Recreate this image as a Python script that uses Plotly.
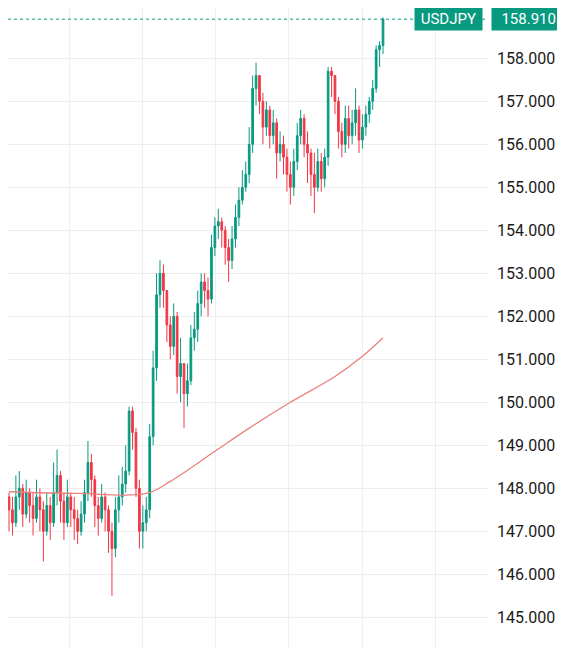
import plotly.graph_objects as go

closes = [147.5, 147.2, 147.8, 148.0, 147.4, 147.9, 147.6, 147.3, 147.8, 147.5,
          147.0, 147.6, 147.2, 147.9, 148.3, 147.7, 147.2, 147.8, 147.5, 147.3,
          147.0, 147.4, 147.9, 148.6, 148.2, 147.6, 147.3, 147.8, 147.5, 147.0,
          146.6, 147.5, 147.8, 148.1, 148.4, 149.8, 149.3, 148.0, 147.0, 147.2,
          147.5, 149.2, 150.8, 152.5, 153.0, 152.6, 151.8, 151.3, 152.0, 150.6,
          150.9, 150.2, 150.5, 151.5, 151.7, 152.3, 152.8, 152.6, 152.4, 153.6,
          154.1, 154.2, 154.0, 153.6, 153.3, 153.8, 154.3, 154.7, 155.0, 155.3,
          156.0, 157.3, 157.6, 157.0, 156.4, 156.8, 156.2, 156.5, 155.8, 156.0,
          155.7, 155.3, 155.0, 155.6, 156.2, 156.6, 156.0, 155.8, 155.3, 155.0,
          155.6, 155.2, 155.7, 157.7, 157.6, 157.0, 156.3, 156.0, 156.6, 156.2,
          156.5, 156.8, 156.1, 156.4, 156.7, 157.0, 157.3, 158.2, 158.3, 158.91]
highs = [147.9, 147.8, 148.3, 148.4, 148.1, 148.2, 148.0, 147.9, 148.2, 148.0,
         147.7, 147.9, 147.8, 148.6, 148.9, 148.4, 147.9, 148.2, 147.9, 147.8,
         147.5, 147.7, 148.2, 149.1, 148.8, 148.3, 147.8, 148.1, 147.9, 147.6,
         147.2, 147.8, 148.3, 148.5, 149.0, 149.9, 149.9, 149.4, 148.2, 147.6,
         147.8, 149.5, 151.2, 153.0, 153.3, 153.2, 152.6, 152.0, 152.3, 152.1,
         151.5, 150.9, 150.9, 151.8, 152.1, 152.6, 153.0, 153.0, 152.9, 153.9,
         154.3, 154.5, 154.3, 154.1, 153.8, 154.1, 154.6, 155.0, 155.4, 155.6,
         156.4, 157.6, 157.9, 157.6, 157.2, 157.0, 156.9, 156.8, 156.6, 156.3,
         156.2, 155.9, 155.6, 155.9, 156.5, 156.8, 156.7, 156.3, 155.9, 155.8,
         155.9, 155.8, 155.9, 157.8, 157.8, 157.6, 157.1, 156.5, 156.9, 156.9,
         156.8, 157.3, 156.9, 156.7, 156.9, 157.1, 157.5, 158.3, 158.4, 158.95]
lows = [147.0, 146.9, 147.1, 147.5, 147.1, 147.3, 147.2, 146.9, 147.2, 147.0,
        146.3, 146.9, 146.8, 147.1, 147.6, 147.2, 146.8, 147.1, 147.1, 146.8,
        146.7, 146.9, 147.2, 147.7, 147.8, 147.1, 146.9, 147.2, 147.0, 146.5,
        145.5, 146.4, 147.2, 147.6, 147.9, 148.3, 148.9, 147.8, 146.6, 146.6,
        147.0, 147.3, 149.0, 150.5, 152.2, 152.2, 151.4, 151.0, 151.1, 150.2,
        150.0, 149.4, 149.9, 150.4, 151.2, 151.4, 152.0, 152.2, 152.0, 152.3,
        153.4, 153.8, 153.6, 153.2, 152.8, 153.1, 153.6, 154.1, 154.6, 154.9,
        155.1, 155.8, 156.9, 156.7, 156.0, 156.2, 155.9, 156.0, 155.2, 155.6,
        155.3, 154.9, 154.6, 154.8, 155.4, 156.0, 155.7, 155.1, 154.8, 154.4,
        154.9, 154.9, 155.0, 155.5, 157.1, 156.7, 155.9, 155.7, 155.8, 155.9,
        156.0, 156.2, 155.8, 155.9, 156.2, 156.5, 156.8, 157.2, 157.8, 158.1]

ma_idx = [0, 20, 40, 47, 60, 70, 82, 95, 103, 109]
ma_val = [147.92, 147.88, 147.88, 148.16, 148.86, 149.4, 150.0, 150.6, 151.07, 151.5]

opens = [147.8] + closes[:-1]
x = list(range(len(closes)))

fig = go.Figure()
fig.add_trace(go.Scatter(x=ma_idx, y=ma_val, mode="lines", line=dict(color="#e8827f", width=1.3, shape="spline"),
                         hoverinfo="skip"))
fig.add_trace(go.Candlestick(
    x=x, open=opens, high=highs, low=lows, close=closes,
    increasing=dict(line=dict(color="#089981", width=1), fillcolor="#089981"),
    decreasing=dict(line=dict(color="#f23645", width=1), fillcolor="#f23645"),
    whiskerwidth=0,
))
fig.add_hline(y=closes[-1], line=dict(color="#089981", width=1, dash="dot"))

fig.add_annotation(x=1, xref="paper", xanchor="right", y=closes[-1], yref="y",
                   text=" USDJPY ", showarrow=False, bgcolor="#089981",
                   font=dict(color="white", size=15, family="Roboto"), xshift=-5,
                   borderpad=2)
fig.add_annotation(x=1, xref="paper", xanchor="right", y=closes[-1], yref="y",
                   text="  %.3f " % closes[-1], showarrow=False, bgcolor="#089981",
                   font=dict(color="white", size=15, family="Roboto"), xshift=75,
                   borderpad=2)

fig.update_layout(
    width=565, height=648, margin=dict(l=0, r=85, t=0, b=0),
    paper_bgcolor="white", plot_bgcolor="white", showlegend=False,
    xaxis=dict(range=[-0.3, 139.6], rangeslider=dict(visible=False), showticklabels=False,
               tickvals=[17.6, 39, 60.3, 81.5, 103, 124.2], showgrid=True, gridcolor="#eeeeee",
               zeroline=False),
    yaxis=dict(side="right", range=[144.1, 159.17], tickvals=list(range(145, 159)),
               tickformat=".3f", showgrid=True, gridcolor="#eeeeee", zeroline=False,
               tickfont=dict(size=16, color="#1a1a1a", family="Roboto"), ticks="", ticklabelstandoff=8),
)
fig.write_html("out.html")
